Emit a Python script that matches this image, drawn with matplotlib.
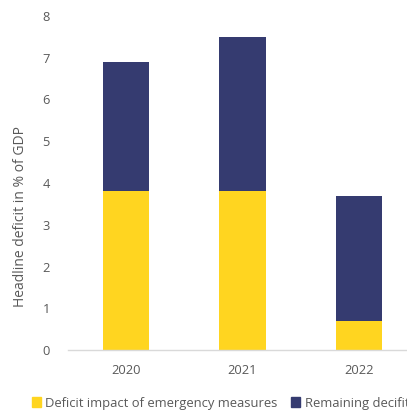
import matplotlib
matplotlib.use("Agg")
import matplotlib.pyplot as plt
from matplotlib.patches import Patch

years = ["2020", "2021", "2022"]
emergency = [3.8, 3.8, 0.7]
remaining = [3.1, 3.7, 3.0]
series_names = ["Deficit impact of emergency measures", "Remaining decifit"]
ylabel = "Headline deficit in % of GDP"

yellow = "#FFD520"
navy = "#353B70"
grey_txt = "#595959"

plt.rcParams['font.family'] = ['Open Sans', 'DejaVu Sans']

fig = plt.figure(figsize=(4.07, 4.16), dpi=100)
ax = fig.add_axes([68/407, 66/416, (417-68)/407, 334/416])

x = list(range(len(years)))
ax.bar(x, emergency, width=0.4, color=yellow, label=series_names[0])
ax.bar(x, remaining, width=0.4, bottom=emergency, color=navy, label=series_names[1])

ax.set_xlim(-0.5, 2.5)
ax.set_ylim(0, 8)
ax.set_yticks(range(0, 9))
ax.set_xticks(x)
ax.set_xticklabels(years)
ax.tick_params(axis='both', length=0, colors=grey_txt, labelsize=9.3)
ax.tick_params(axis='y', pad=13)
ax.tick_params(axis='x', pad=10)
for s in ['top', 'right', 'left']:
    ax.spines[s].set_visible(False)
ax.spines['bottom'].set_color('#D9D9D9')
ax.spines['bottom'].set_linewidth(1.0)
ax.set_ylabel(ylabel, color=grey_txt, fontsize=10)
ax.yaxis.set_label_coords(-40/349, 0.40)

handles = [Patch(color=yellow), Patch(color=navy)]
fig.legend(handles, series_names, loc='center left', bbox_to_anchor=(20/407, 1 - 403/416),
           ncol=2, frameon=False, fontsize=9.4, handlelength=0.7, handleheight=0.7,
           handletextpad=0.35, columnspacing=1.0, labelcolor=grey_txt)

fig.savefig("out.png", dpi=100)
